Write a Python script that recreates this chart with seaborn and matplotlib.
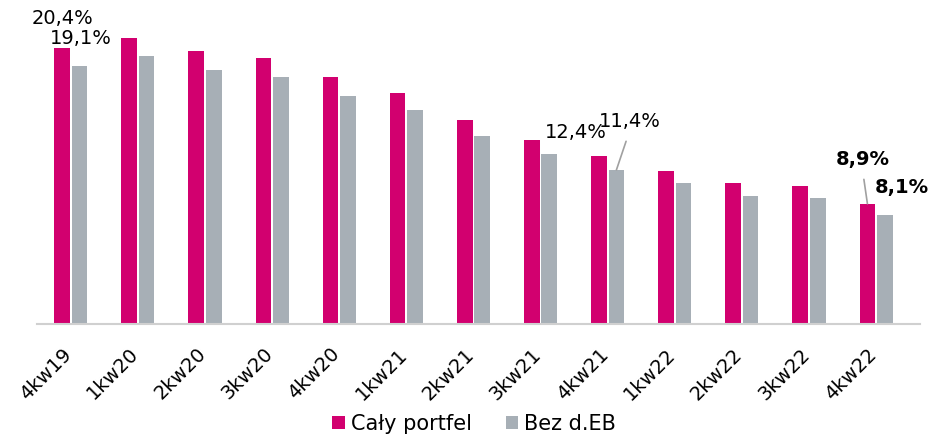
import matplotlib
matplotlib.use("Agg")
import matplotlib.pyplot as plt
import matplotlib.transforms as mtransforms
import seaborn as sns
import pandas as pd

# dane
quarters = ['4kw19', '1kw20', '2kw20', '3kw20', '4kw20', '1kw21', '2kw21',
            '3kw21', '4kw21', '1kw22', '2kw22', '3kw22', '4kw22']
caly_portfel = [20.4, 21.2, 20.2, 19.7, 18.3, 17.1, 15.1, 13.6, 12.4, 11.3, 10.4, 10.2, 8.9]
bez_deb = [19.1, 19.8, 18.8, 18.3, 16.9, 15.8, 13.9, 12.6, 11.4, 10.4, 9.5, 9.3, 8.1]
series = ['Cały portfel', 'Bez d.EB']
colors = ['#D2006F', '#A7AFB6']

df = pd.DataFrame({
    'kw': quarters * 2,
    'val': caly_portfel + bez_deb,
    'seria': [series[0]] * len(quarters) + [series[1]] * len(quarters),
})

sns.set_style('white')
plt.rcParams['font.family'] = ['DejaVu Sans']
plt.rcParams['text.color'] = 'black'
plt.rcParams['xtick.color'] = 'black'

fig = plt.figure(figsize=(9.3, 4.34), dpi=100)
ax = fig.add_axes([0.040, 0.2535, 0.949, 0.7005])

sns.barplot(data=df, x='kw', y='val', hue='seria', palette=colors,
            width=0.52, gap=0.1, ax=ax, saturation=1, linewidth=0)

ax.set_xlim(-0.5, 12.65)
ax.set_ylim(0, 22.5)
ax.set_xlabel('')
ax.set_ylabel('')
ax.set_yticks([])
for s in ['top', 'right', 'left']:
    ax.spines[s].set_visible(False)
ax.spines['bottom'].set_color('#D0D0D0')
ax.spines['bottom'].set_linewidth(1.5)
ax.tick_params(axis='x', length=0, pad=14)
shift = mtransforms.ScaledTranslation(-0.09, -0.01, fig.dpi_scale_trans)
for lab in ax.get_xticklabels():
    lab.set_rotation(45)
    lab.set_ha('right')
    lab.set_rotation_mode('anchor')
    lab.set_fontsize(14)
    lab.set_transform(lab.get_transform() + shift)

# etykiety wartości
pink = ax.containers[0]
grey = ax.containers[1]


def label(bar, txt, dx, dy, bold=False, line=False):
    x = bar.get_x() + bar.get_width() / 2
    y = bar.get_height()
    arrow = None
    if line:
        arrow = dict(arrowstyle='-', color='#A0A0A0', lw=1.2, shrinkA=5, shrinkB=0,
                     relpos=(0.5, 0))
    ax.annotate(txt, xy=(x, y), xytext=(dx, dy), textcoords='offset pixels',
                ha='center', va='center', fontsize=14,
                fontweight='bold' if bold else 'normal', arrowprops=arrow)


label(pink[0], '20,4%', 0, 30)
label(grey[0], '19,1%', 1, 27)
label(pink[8], '12,4%', -23, 24)
label(grey[8], '11,4%', 13, 48, line=True)
label(pink[12], '8,9%', -5, 44, bold=True, line=True)
label(grey[12], '8,1%', 17, 27, bold=True)

ax.legend(loc='center', bbox_to_anchor=(0.51, 0.024), bbox_transform=fig.transFigure,
          ncol=2, frameon=False, fontsize=15, handlelength=0.6, handleheight=0.6,
          handletextpad=0.3, columnspacing=1.6)

fig.savefig('out.png', dpi=100)
